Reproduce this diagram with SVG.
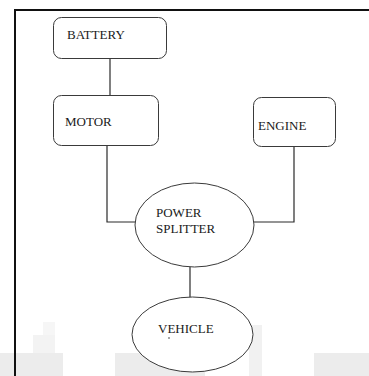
<svg xmlns="http://www.w3.org/2000/svg" width="369" height="376" viewBox="0 0 369 376">
<style>
.box{fill:#fff;stroke:#3a3a3a;stroke-width:1}
.lbl{font-family:"Liberation Serif","Times New Roman",serif;font-size:13px;fill:#1a1a1a}
.con{fill:none;stroke:#2a2a2a;stroke-width:1.2}
.frame{fill:none;stroke:#111;stroke-width:2}
</style>
<rect width="369" height="376" fill="#fff"/>
<g id="watermark" fill="#ececec">
<rect x="0" y="353" width="63" height="23"/>
<rect x="33" y="335" width="22" height="18" fill="#f3f3f3"/>
<rect x="43" y="322" width="12" height="13" fill="#f6f6f6"/>
<rect x="115" y="353" width="90" height="23"/>
<rect x="249" y="325" width="13" height="51" fill="#f1f1f1"/>
<rect x="314" y="353" width="55" height="23"/>
</g>
<path class="frame" d="M15,376 V10 H369"/>
<g id="connectors">
<line class="con" x1="110" y1="59" x2="110" y2="95"/>
<path class="con" d="M107,146 V222 H135"/>
<path class="con" d="M294,147 V222 H254"/>
<line class="con" x1="190" y1="267" x2="190" y2="298"/>
</g>
<g id="battery">
<rect class="box" x="53.5" y="17.5" width="113" height="41" rx="8"/>
<text class="lbl" x="67" y="39">BATTERY</text>
</g>
<g id="motor">
<rect class="box" x="53.5" y="95.5" width="105" height="50" rx="8"/>
<text class="lbl" x="65" y="126">MOTOR</text>
</g>
<g id="engine">
<rect class="box" x="253.5" y="97.5" width="82" height="49" rx="8"/>
<text class="lbl" x="258" y="130">ENGINE</text>
</g>
<g id="power-splitter">
<ellipse class="box" cx="194.5" cy="225" rx="59.5" ry="42"/>
<text class="lbl" x="156" y="217">POWER</text>
<text class="lbl" x="156" y="233">SPLITTER</text>
</g>
<g id="vehicle">
<ellipse class="box" cx="192.5" cy="334.5" rx="60.5" ry="37.5"/>
<text class="lbl" x="158" y="333">VEHICLE</text>
<circle cx="169" cy="338" r="0.8" fill="#333"/>
</g>
</svg>
